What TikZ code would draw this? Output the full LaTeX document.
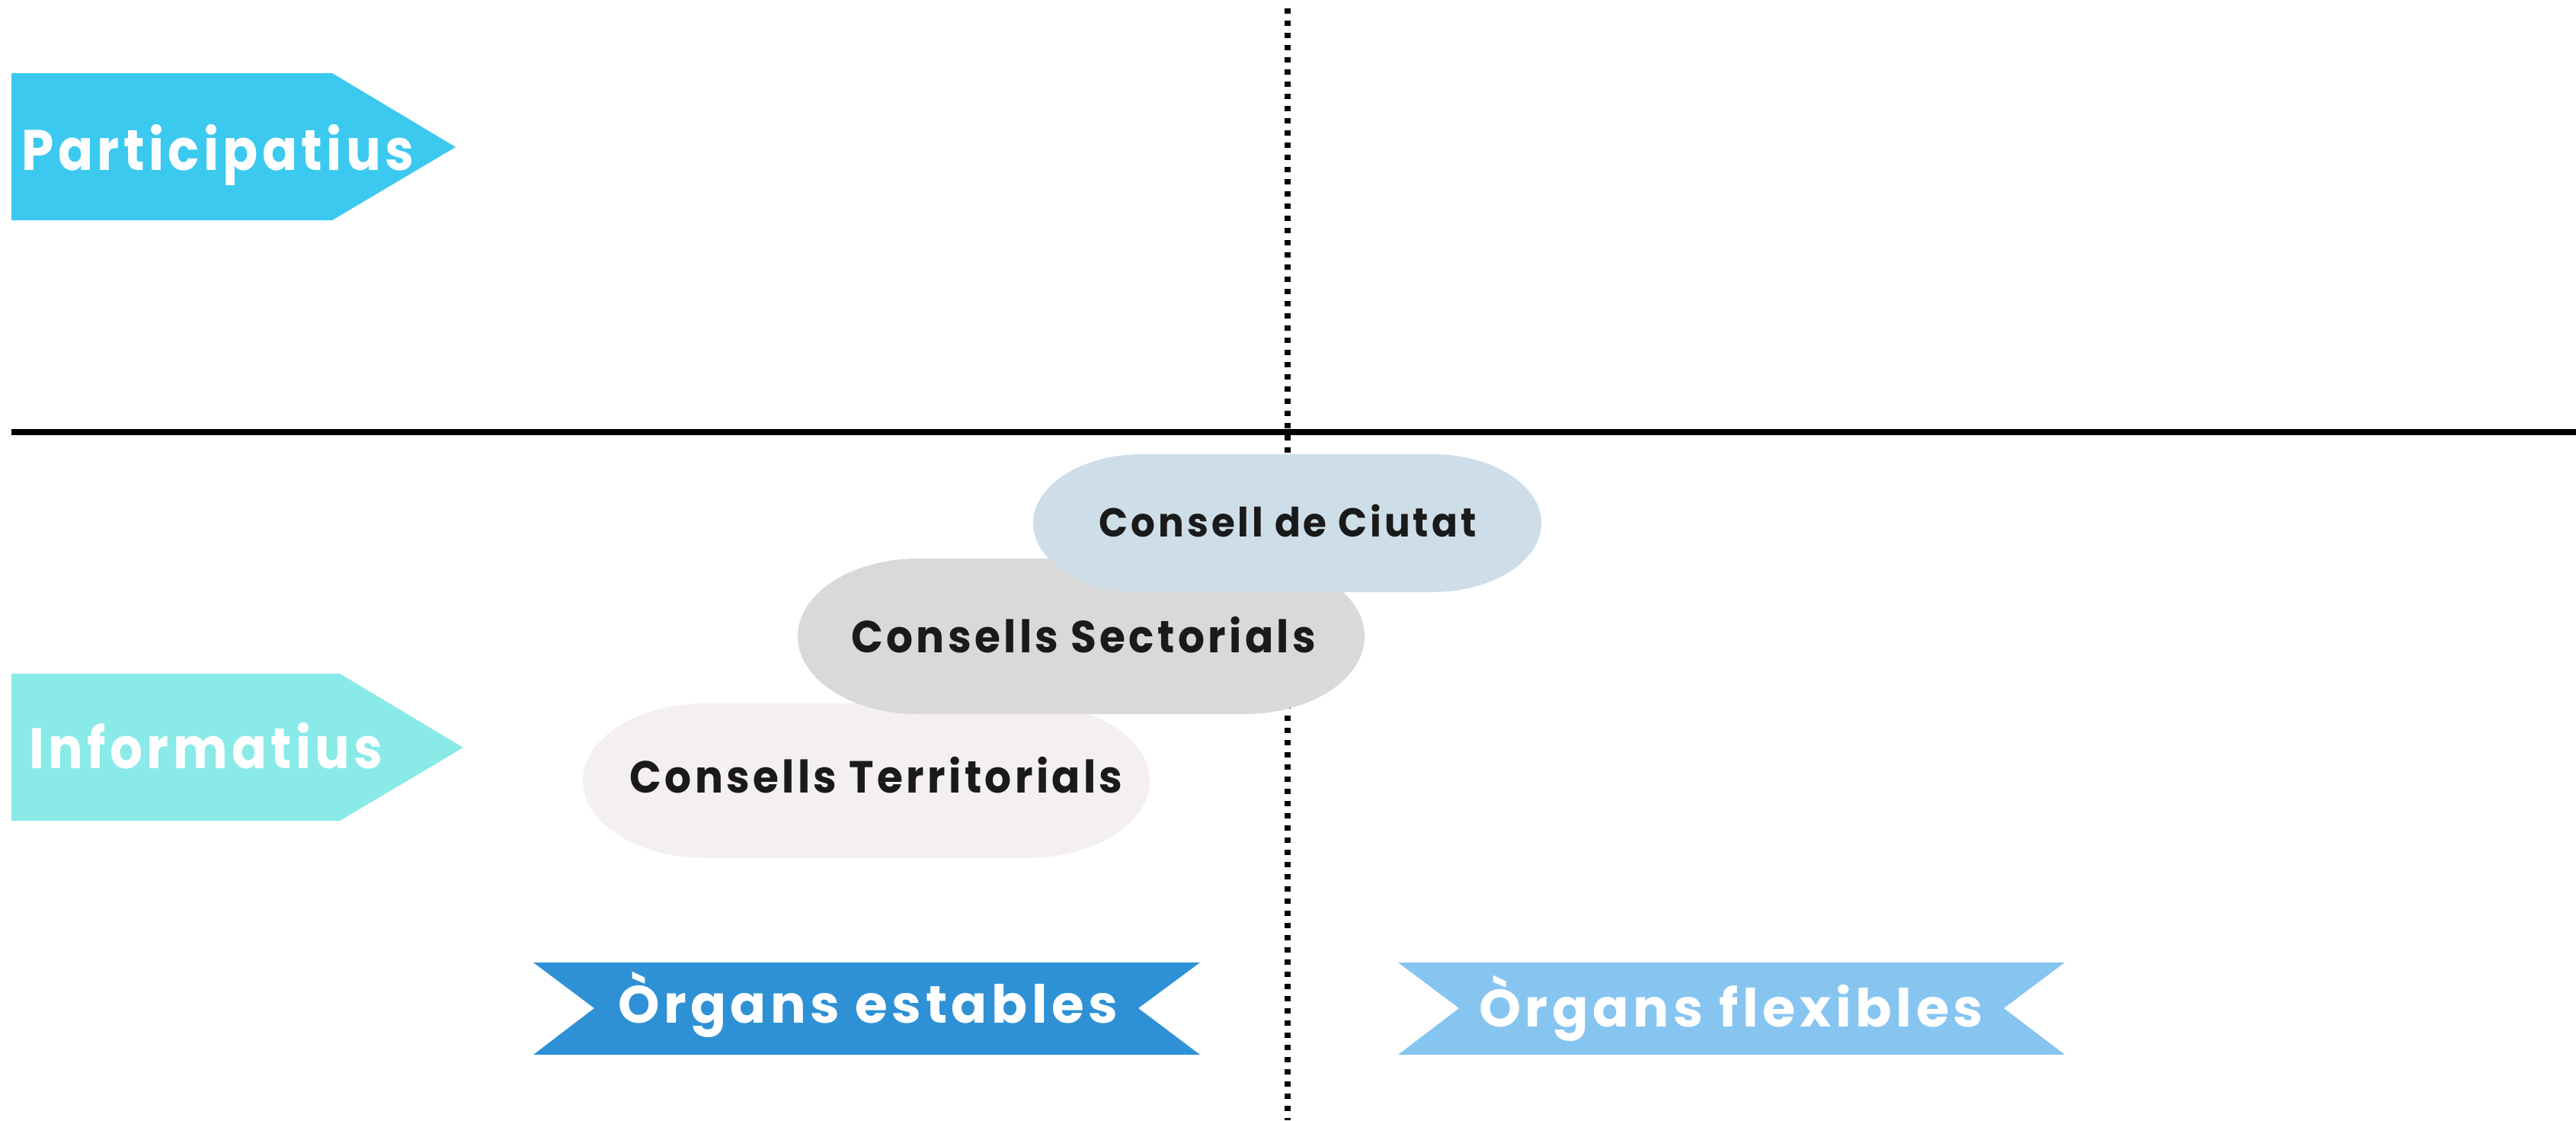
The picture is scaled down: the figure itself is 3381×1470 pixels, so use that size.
\documentclass[tikz,border=0pt]{standalone}
\usepackage{fontspec}
\usepackage{graphicx}
\newfontfamily\labelfont{Poppins}[LetterSpace=8]
\definecolor{partc}{HTML}{3BC9F0}
\definecolor{infoc}{HTML}{8AEAE8}
\definecolor{estc}{HTML}{2E91D6}
\definecolor{flexc}{HTML}{87C5F1}
\definecolor{ciutatc}{HTML}{CEDEE8}
\definecolor{sectc}{HTML}{D9D9D9}
\definecolor{terrc}{HTML}{F3F0EF}
\definecolor{inkc}{HTML}{1A1A1A}
\newcommand\fitw[2]{\resizebox{#1pt}{\height}{#2}}
\newcommand\pillpath[7]{% name x1 y1 x2 y2 rx color
  \fill[#7] (#2+#6,#3) -- (#4-#6,#3)
    arc[start angle=-90,end angle=90,x radius=#6,y radius={(#5-#3)/2}]
    -- (#2+#6,#5)
    arc[start angle=90,end angle=270,x radius=#6,y radius={(#5-#3)/2}] -- cycle;
  \coordinate (#1) at ({(#2+#4)/2},{(#3+#5)/2});}
\begin{document}
\begin{tikzpicture}[x=1pt,y=-1pt,
  bigtext/.style={inner sep=0pt,text=white,font=\labelfont\bfseries\fontsize{75}{90}\selectfont},
  bantext/.style={inner sep=0pt,text=white,font=\labelfont\bfseries\fontsize{69}{84}\selectfont},
  pilltext/.style={inner sep=0pt,text=inkc,font=\labelfont\bfseries\fontsize{59}{72}\selectfont},
  smallpilltext/.style={inner sep=0pt,text=inkc,font=\labelfont\bfseries\fontsize{53}{66}\selectfont},
  axis/.style={line width=7.5pt,black},
  dotline/.style={line width=7.5pt,black,dash pattern=on 7pt off 9pt}]
\useasboundingbox (0,0) rectangle (3381,1470);
% axes
\coordinate (vtop) at (1690,11);
\coordinate (vbot) at (1690,1470);
\coordinate (hleft) at (15,567);
\coordinate (hright) at (3381,567);
\draw[dotline] (vtop) -- (vbot);
\draw[axis] (hleft) -- (hright);
% side arrows
\fill[partc] (15,96) -- (436,96) -- (598,193) -- (436,289) -- (15,289) -- cycle;
\node[bigtext,anchor=base west] (part) at (28,223) {\fitw{515}{Participatius}};
\fill[infoc] (15,884) -- (446,884) -- (608,981) -- (446,1077) -- (15,1077) -- cycle;
\node[bigtext,anchor=base west] (info) at (38,1008) {\fitw{464}{Informatius}};
% pills
\pillpath{terr}{765}{923}{1509}{1126}{162}{terrc}
\pillpath{sect}{1047}{733}{1791}{937}{158}{sectc}
\pillpath{ciutat}{1356}{596}{2023}{777}{143}{ciutatc}
\node[smallpilltext,anchor=base] (ciutatlbl) at (1690,704) {\fitw{495}{Consell de Ciutat}};
\node[pilltext,anchor=base] (sectlbl) at (1422,856) {\fitw{610}{Consells Sectorials}};
\node[pilltext,anchor=base] (terrlbl) at (1150,1040) {\fitw{647}{Consells Territorials}};
% banners
\fill[estc] (700,1263) -- (1575,1263) -- (1494,1323) -- (1575,1384) -- (700,1384) -- (780,1323) -- cycle;
\node[bantext,anchor=base] (estables) at (1139,1342) {\fitw{656}{Òrgans estables}};
\fill[flexc] (1835,1263) -- (2710,1263) -- (2630,1323) -- (2710,1384) -- (1835,1384) -- (1915,1323) -- cycle;
\node[bantext,anchor=base] (flexibles) at (2272,1347) {\fitw{662}{Òrgans flexibles}};
\end{tikzpicture}
\end{document}
